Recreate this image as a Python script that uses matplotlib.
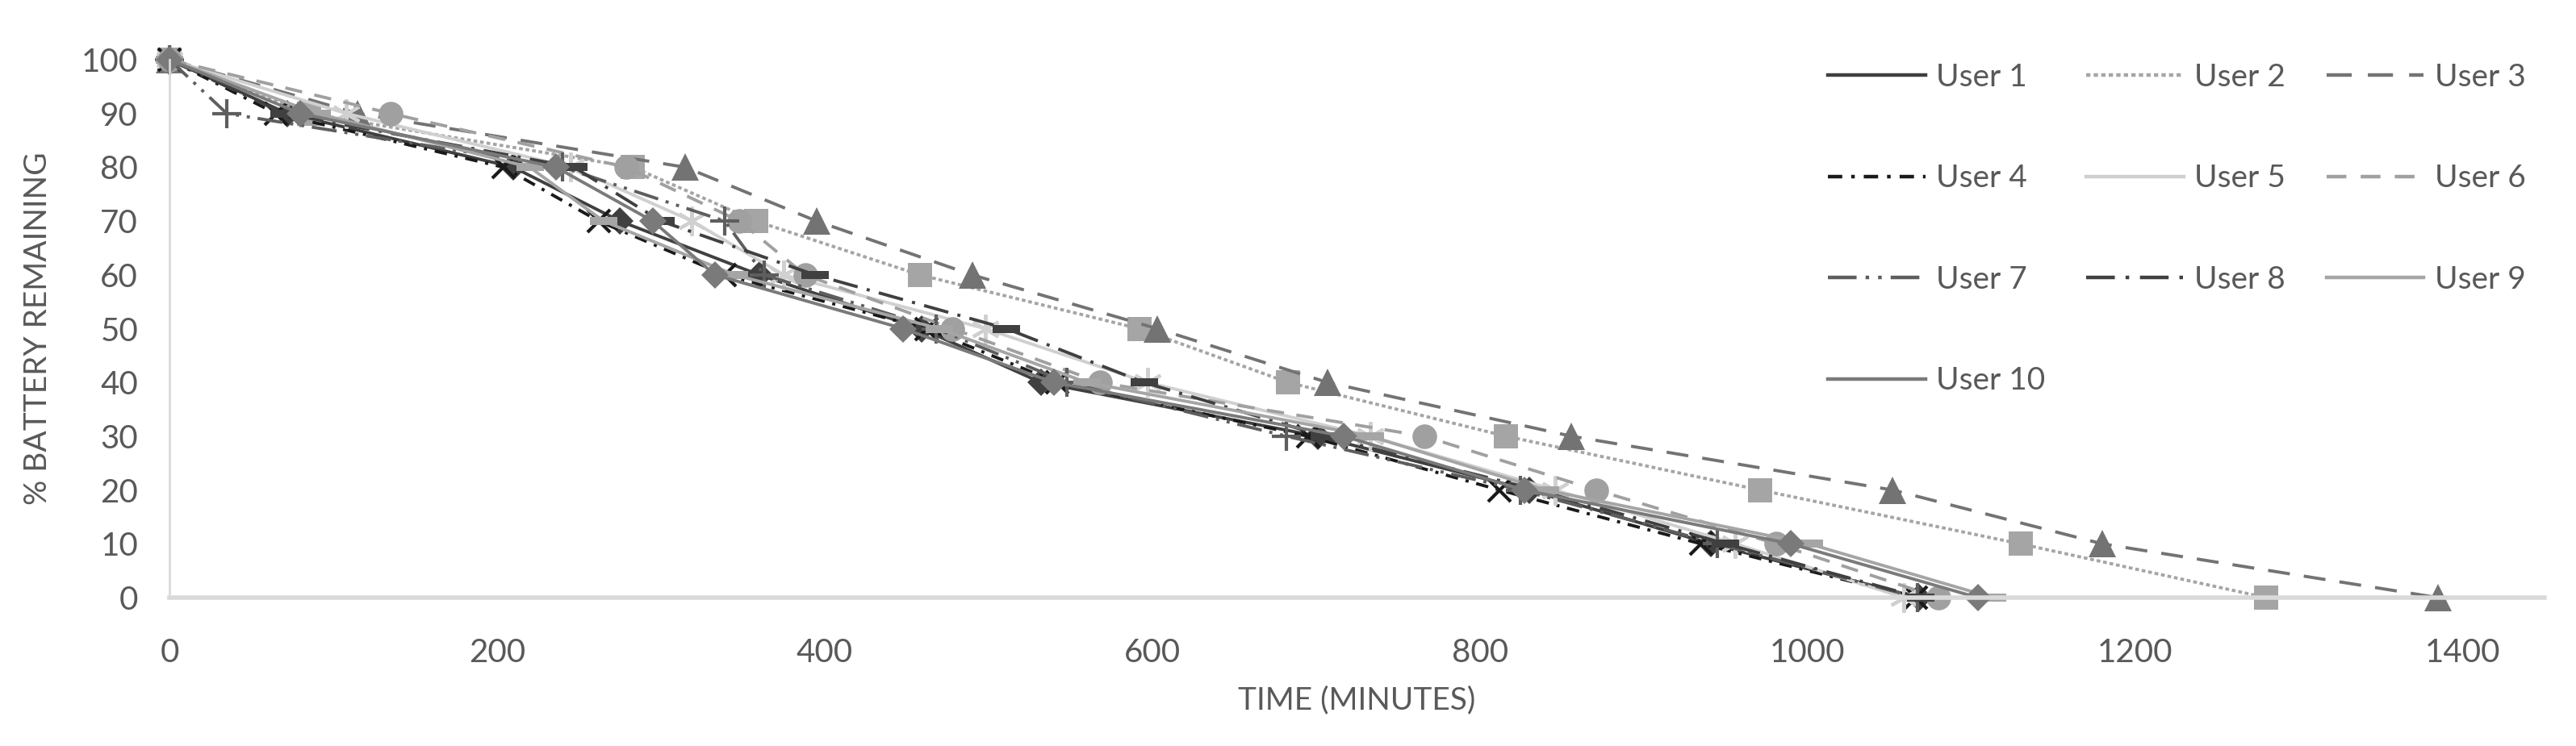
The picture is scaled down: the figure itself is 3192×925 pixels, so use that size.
import matplotlib.pyplot as plt
from matplotlib.lines import Line2D

plt.rcParams['font.family'] = ['Lato', 'DejaVu Sans']

# % battery remaining at each reading
pct = [100, 90, 80, 70, 60, 50, 40, 30, 20, 10, 0]

# minutes at which each user hit the level above
user1 = [0, 72, 210, 275, 360, 459, 532, 701, 830, 941, 1068]
user2 = [0, 85, 283, 358, 458, 592, 683, 816, 971, 1130, 1280]
user3 = [0, 115, 315, 395, 490, 603, 707, 856, 1052, 1180, 1385]
user4 = [0, 65, 204, 262, 339, 462, 542, 695, 812, 935, 1066]
user5 = [0, 108, 245, 319, 375, 498, 597, 733, 846, 956, 1059]
user6 = [0, 135, 279, 348, 388, 478, 568, 766, 871, 981, 1080]
user7 = [0, 35, 240, 339, 363, 468, 548, 682, 825, 945, 1067]
user8 = [0, 70, 247, 300, 394, 511, 595, 705, 835, 950, 1069]
user9 = [0, 90, 220, 265, 345, 470, 560, 733, 840, 1001, 1113]
user10 = [0, 80, 236, 295, 333, 448, 540, 717, 827, 990, 1104]

names = ['User 1', 'User 2', 'User 3', 'User 4', 'User 5',
         'User 6', 'User 7', 'User 8', 'User 9', 'User 10']
times = [user1, user2, user3, user4, user5, user6, user7, user8, user9, user10]

# excel-ish grey styles
dash_mk = [(-1, -0.28), (1, -0.28), (1, 0.28), (-1, 0.28)]
styles = [
    dict(color='#404040', ls='-', marker='D', ms=17),
    dict(color='#A5A5A5', ls=(0, (1.2, 0.9)), marker='s', ms=21),
    dict(color='#737373', ls=(0, (7, 4.5)), marker='^', ms=24),
    dict(color='#1A1A1A', ls=(0, (4, 2.5, 1, 2.5)), marker='x', ms=20, mew=3),
    dict(color='#D0D0D0', ls='-', marker=(6, 2, 0), ms=26, mew=3),
    dict(color='#A0A0A0', ls=(0, (5.5, 4)), marker='o', ms=22),
    dict(color='#5E5E5E', ls=(0, (8, 2.5, 1, 2.5, 1, 2.5)), marker='+', ms=26, mew=3),
    dict(color='#404040', ls=(0, (8, 3, 1, 3)), marker=dash_mk, ms=24),
    dict(color='#A5A5A5', ls='-', marker=dash_mk, ms=24),
    dict(color='#7A7A7A', ls='-', marker='D', ms=17),
]

fig = plt.figure(figsize=(31.92, 9.25), dpi=100)
ax = fig.add_axes([210 / 3192, 1 - 741 / 925, (3153 - 210) / 3192, (741 - 74) / 925])

for t, name, st in zip(times, names, styles):
    ax.plot(t, pct, color=st['color'], ls=st['ls'], lw=2.8,
            marker=st['marker'], ms=st['ms'], mew=st.get('mew', 0),
            mfc=st['color'], mec=st['color'], label=name, clip_on=False)

ax.set_xlim(0, 1450)
ax.set_ylim(0, 100)
ax.set_xticks(range(0, 1401, 200))
ax.set_yticks(range(0, 101, 10))
ax.tick_params(length=0, labelsize=29, labelcolor='#595959')
ax.tick_params(axis='y', pad=28)
ax.tick_params(axis='x', pad=36)
for s in ['top', 'right']:
    ax.spines[s].set_visible(False)
ax.spines['left'].set_color('#D9D9D9')
ax.spines['left'].set_linewidth(2)
ax.spines['bottom'].set_color('#D9D9D9')
ax.spines['bottom'].set_linewidth(4)

ax.set_xlabel('TIME (MINUTES)', fontsize=28, color='#595959', labelpad=16)
ax.set_ylabel('% BATTERY REMAINING', fontsize=28, color='#595959', labelpad=26)

# legend shows line only, filled row by row like excel
order = [0, 3, 6, 9, 1, 4, 7, 2, 5, 8]
handles = [Line2D([], [], color=styles[i]['color'], ls=styles[i]['ls'], lw=3.2) for i in order]
fig.legend(handles, [names[i] for i in order], loc='upper left',
           bbox_to_anchor=(2265 / 3192, 1 - 78 / 925),
           ncol=3, frameon=False, fontsize=28, labelcolor='#595959',
           handlelength=3.1, handletextpad=0.35, columnspacing=1.3,
           labelspacing=2.3, borderpad=0, borderaxespad=0)

fig.savefig('out.png', dpi=100)
